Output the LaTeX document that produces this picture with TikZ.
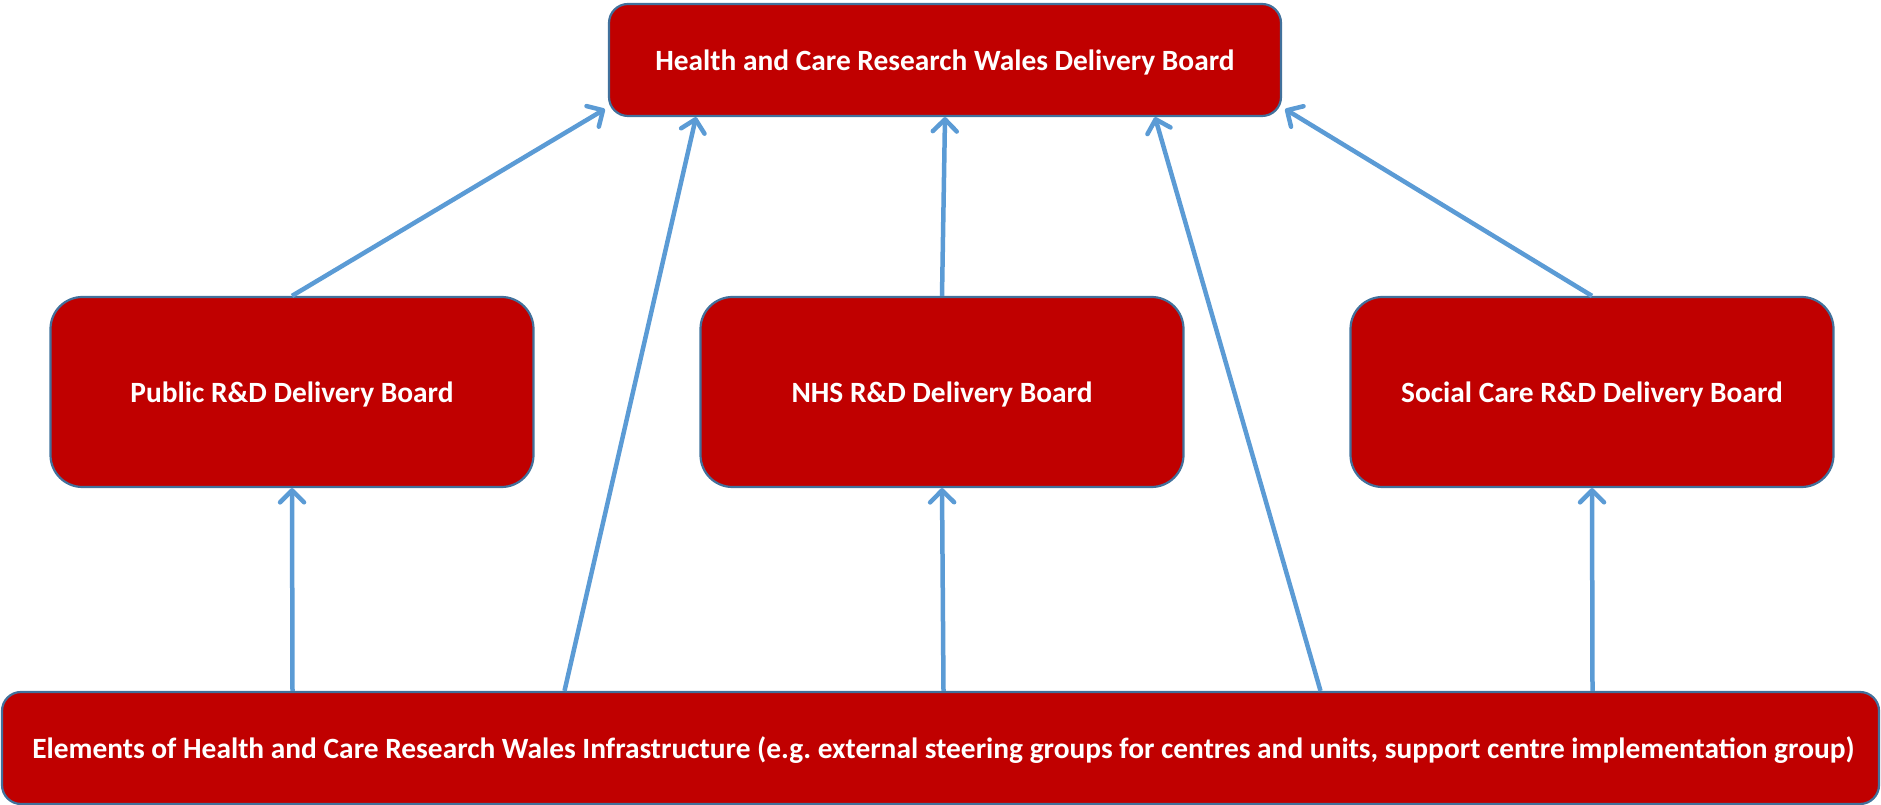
\documentclass[tikz,border=0pt]{standalone}
\usepackage{fontspec}
\setmainfont{Carlito}
\usetikzlibrary{arrows.meta}
\definecolor{boardred}{HTML}{C00000}
\definecolor{boardedge}{HTML}{41719C}
\definecolor{linkblue}{HTML}{5B9BD5}
\tikzset{
    board/.style={draw=boardedge, line width=2.2pt, fill=boardred, text=white,
        font=\fontsize{29.4}{34}\selectfont\bfseries, inner sep=0pt,
        text height=29pt, text depth=7pt},
    link/.style={draw=linkblue, line width=4.5pt,
        -{Straight Barb[length=12pt,width=24pt,line width=4.5pt,round]}}
}
\begin{document}
\begin{tikzpicture}[x=1pt,y=1pt]
        \useasboundingbox (0,0) rectangle (1881,805);
        \node[board, rounded corners=19pt, minimum width=672pt, minimum height=112pt] (top) at (945,745) {Health and Care Research Wales Delivery Board};
        \node[board, rounded corners=32pt, minimum width=483pt, minimum height=190pt] (pub) at (292,413) {Public R\&D Delivery Board};
        \node[board, rounded corners=32pt, minimum width=483pt, minimum height=190pt] (nhs) at (942,413) {NHS R\&D Delivery Board};
        \node[board, rounded corners=32pt, minimum width=483pt, minimum height=190pt] (soc) at (1592,413) {Social Care R\&D Delivery Board};
        \node[board, rounded corners=19pt, minimum width=1877pt, minimum height=112pt] (infra) at (940.5,57) {\hspace{6pt}Elements of Health and Care Research Wales Infrastructure (e.g.\ external steering groups for centres and units, support centre implementation group)};
        \draw[link] (pub.north) -- ([xshift=-3pt,yshift=8pt]top.south west);
        \draw[link] ([xshift=-376pt]infra.north) -- ([xshift=-249pt]top.south);
        \draw[link] (nhs.north) -- (top.south);
        \draw[link] ([xshift=380pt]infra.north) -- ([xshift=210pt]top.south);
        \draw[link] (soc.north) -- ([xshift=3pt,yshift=8pt]top.south east);
        \draw[link] ([xshift=-648pt]infra.north) -- (pub.south);
        \draw[link] ([xshift=3pt]infra.north) -- (nhs.south);
        \draw[link] ([xshift=652pt]infra.north) -- (soc.south);
    \end{tikzpicture}
\end{document}
